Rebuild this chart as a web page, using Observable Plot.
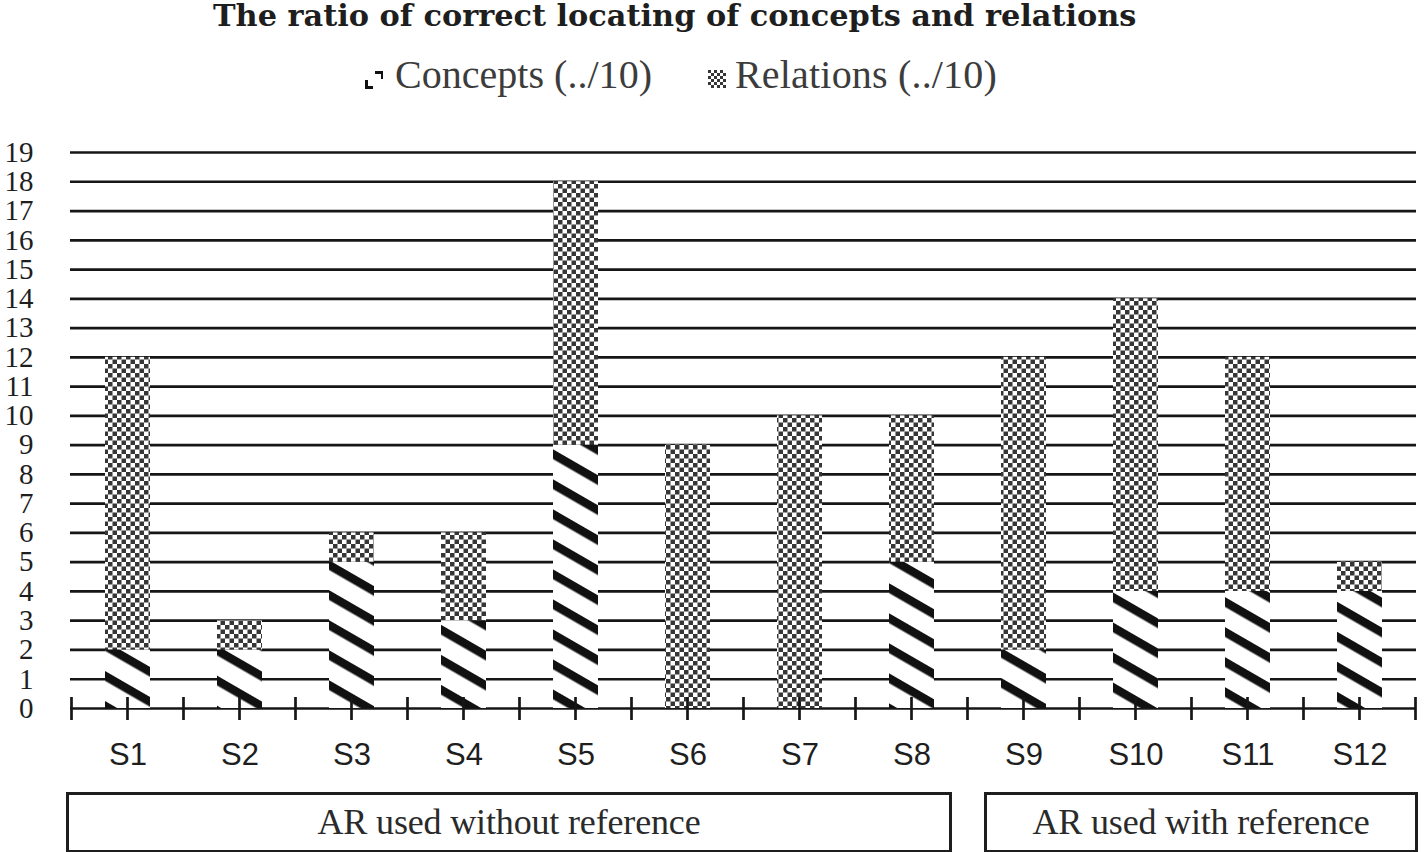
<!DOCTYPE html>
<html>
<head>
<meta charset="utf-8">
<script src="https://cdn.jsdelivr.net/npm/d3@7"></script>
<script src="https://cdn.jsdelivr.net/npm/@observablehq/plot@0.6"></script>
<style>
  html, body { margin: 0; padding: 0; background: #fff; }
  body { width: 1424px; height: 852px; position: relative; overflow: hidden; font-family: "Liberation Serif", serif; }
  .txt { position: absolute; white-space: nowrap; line-height: 1; }
  #title { font-weight: bold; color: #1e1e1e; font-family: "DejaVu Serif", serif; }
  .leg { color: #3c3c3c; }
  .sw { position: absolute; }
  #chart { position: absolute; left: 0; top: 130px; }
  .box { position: absolute; box-sizing: border-box; border: 3px solid #1e1e1e; background: #fff; }
  .boxtxt { color: #2a2a2a; }
</style>
</head>
<body>
<span id="title" class="txt"></span>
<svg class="sw" id="sw1" style="left:365px;top:71px" width="18" height="18"></svg>
<span id="leg1" class="txt leg"></span>
<svg class="sw" id="sw2" style="left:708px;top:70px" width="18" height="18"></svg>
<span id="leg2" class="txt leg"></span>
<div id="chart"></div>
<div id="box1" class="box" style="left:66px;top:792px;width:886px;height:61px"></div>
<div id="box2" class="box" style="left:984px;top:792px;width:434px;height:61px"></div>
<span id="gl1" class="txt boxtxt"></span>
<span id="gl2" class="txt boxtxt"></span>
<script>
// ---------- data ----------
const titleText = "The ratio of correct locating of concepts and relations";
const categories = ["S1", "S2", "S3", "S4", "S5", "S6", "S7", "S8", "S9", "S10", "S11", "S12"];
const concepts  = [2, 2, 5, 3, 9, 0, 0, 5, 2, 4, 4, 4];
const relations = [10, 1, 1, 3, 9, 9, 10, 5, 10, 10, 8, 1];
const seriesNames = ["Concepts (../10)", "Relations (../10)"];
const yTicks = [0, 1, 2, 3, 4, 5, 6, 7, 8, 9, 10, 11, 12, 13, 14, 15, 16, 17, 18, 19];
const groupLabels = ["AR used without reference", "AR used with reference"];

const rows = categories.flatMap((c, i) => [
  {cat: c, series: seriesNames[0], value: concepts[i]},
  {cat: c, series: seriesNames[1], value: relations[i]}
]);

// ---------- chart ----------
const chart = Plot.plot({
  width: 1424,
  height: 640,
  marginTop: 22,
  marginBottom: 62,
  marginLeft: 70,
  marginRight: 8,
  style: {fontFamily: "'Liberation Serif', serif", fontSize: "29px", color: "#1e1e1e", background: "white", overflow: "visible"},
  x: {domain: categories, paddingInner: 0.6, paddingOuter: 0.3},
  y: {domain: [0, 19]},
  color: {type: "ordinal", domain: seriesNames, range: ["url(#pat-concepts)", "url(#pat-relations)"]},
  marks: [
    Plot.ruleY(yTicks, {stroke: "#161616", strokeWidth: 2.7}),
    Plot.barY(rows, {x: "cat", y: "value", fill: "series"}),
    Plot.axisY(yTicks, {tickSize: 0, tickPadding: 37, fontSize: 29, label: null, fill: "#1e1e1e"}),
    Plot.axisX({tickSize: 0, tickPadding: 34, fontSize: 31, fontFamily: "'Liberation Sans', Arial, sans-serif", label: null, fill: "#1e1e1e"})
  ]
});
document.getElementById("chart").appendChild(chart);

const svg = d3.select(chart);
const defs = svg.insert("defs", ":first-child");
const pc = defs.append("pattern").attr("id", "pat-concepts")
  .attr("patternUnits", "userSpaceOnUse").attr("width", 26).attr("height", 26)
  .attr("patternTransform", "rotate(30)");
pc.append("rect").attr("width", 26).attr("height", 26).attr("fill", "white");
pc.append("rect").attr("width", 26).attr("height", 8.5).attr("fill", "#111");
const pr = defs.append("pattern").attr("id", "pat-relations")
  .attr("patternUnits", "userSpaceOnUse").attr("width", 9).attr("height", 9);
pr.append("rect").attr("width", 9).attr("height", 9).attr("fill", "white");
pr.append("rect").attr("width", 4.5).attr("height", 4.5).attr("fill", "#363636");
pr.append("rect").attr("x", 4.5).attr("y", 4.5).attr("width", 4.5).attr("height", 4.5).attr("fill", "#363636");

// tick marks at band boundaries and centers, from the library's scales
const xs = chart.scale("x"), ys = chart.scale("y");
const y0 = ys.apply(0);
const gap = (xs.step - xs.bandwidth) / 2;
const tickXs = [];
categories.forEach((c, i) => {
  const left = xs.apply(c);
  tickXs.push(left - gap);
  tickXs.push(left + xs.bandwidth / 2);
  if (i === categories.length - 1) tickXs.push(left + xs.bandwidth + gap);
});
svg.append("g").selectAll("line").data(tickXs).join("line")
  .attr("x1", d => d).attr("x2", d => d)
  .attr("y1", y0 - 11).attr("y2", y0 + 12)
  .attr("stroke", "#161616").attr("stroke-width", 2.7);

// ---------- legend swatches ----------
const s1 = d3.select("#sw1");
s1.append("rect").attr("width", 18).attr("height", 18).attr("fill", "white");
s1.append("polygon").attr("points", "10,0 18,0 18,8 16,8 16,3 10,3").attr("fill", "#111");
s1.append("polygon").attr("points", "0,9 3,9 3,15 8,15 8,18 0,18").attr("fill", "#111");
const s2 = d3.select("#sw2");
s2.append("rect").attr("width", 18).attr("height", 18).attr("fill", "white");
for (let r = 0; r < 6; r++) for (let c = 0; c < 6; c++) if ((r + c) % 2 === 0)
  s2.append("rect").attr("x", c * 3).attr("y", r * 3).attr("width", 3).attr("height", 3).attr("fill", "#363636");

// ---------- texts fitted to the reference widths ----------
function place(id, text, size, left, width, baseline, center, ascent, scaleFont) {
  const el = document.getElementById(id);
  el.textContent = text;
  el.style.fontSize = size + "px";
  el.style.letterSpacing = "0px";
  const w = el.getBoundingClientRect().width;
  let fs = size;
  if (scaleFont) {
    fs = size * width / w;
    el.style.fontSize = fs + "px";
  } else {
    el.style.letterSpacing = ((width - w) / text.length) + "px";
  }
  const w2 = el.getBoundingClientRect().width;
  el.style.left = (center ? left - w2 / 2 : left) + "px";
  el.style.top = (baseline - ascent * fs) + "px";
}
place("title", titleText, 29, 213, 924, 26, false, 0.846, true);
place("leg1", seriesNames[0], 40, 395, 257, 88, false, 0.837, false);
place("leg2", seriesNames[1], 40, 735, 262, 88, false, 0.837, false);
place("gl1", groupLabels[0], 36, 509, 383, 834, true, 0.837, false);
place("gl2", groupLabels[1], 36, 1201, 337, 834, true, 0.837, false);
</script>
</body>
</html>
